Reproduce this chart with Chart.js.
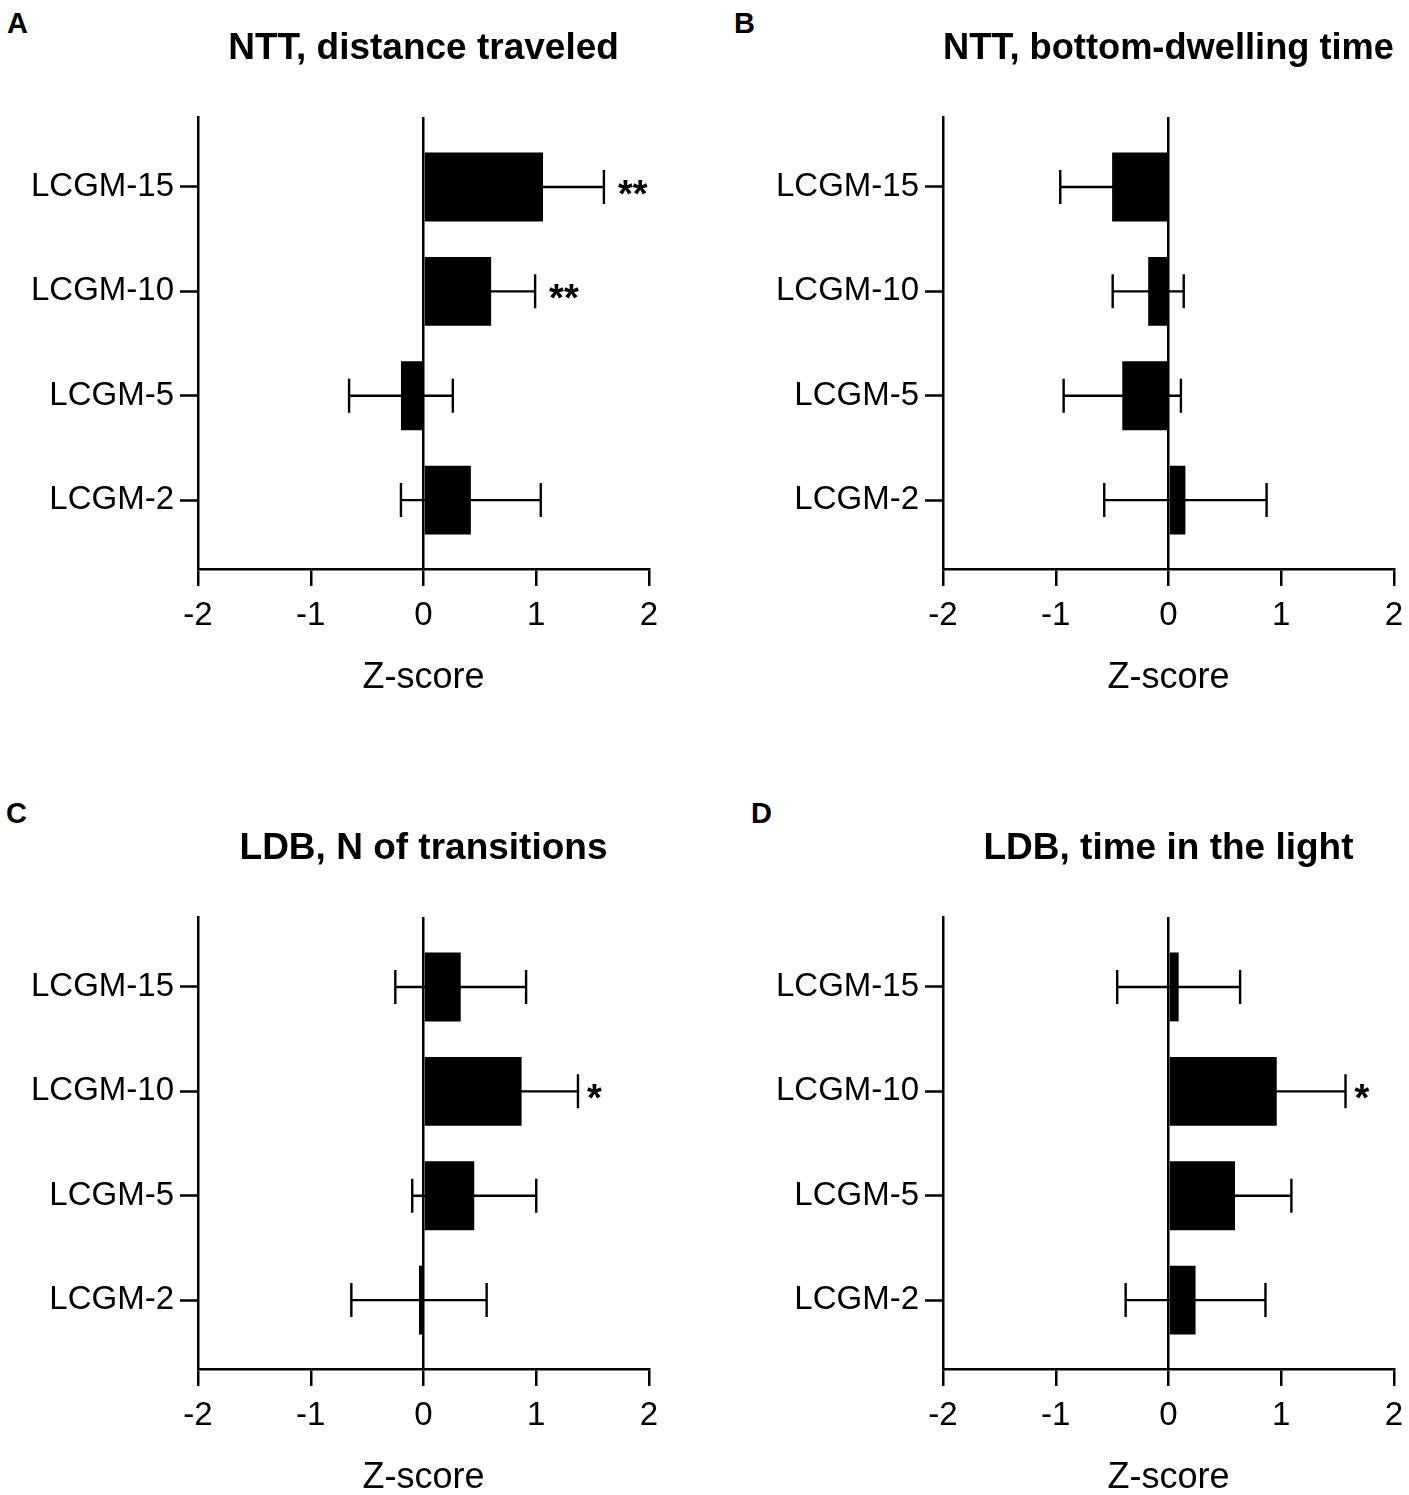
<!DOCTYPE html>
<html>
<head>
<meta charset="utf-8">
<script src="https://cdn.jsdelivr.net/npm/chart.js@4.4.0/dist/chart.umd.min.js"></script>
<style>
html, body { margin: 0; padding: 0; background: #fff; width: 1409px; height: 1495px; overflow: hidden; position: relative; }
.panel { position: absolute; width: 704px; height: 800px; }
.letter { position: absolute; font: bold 29px 'Liberation Sans', Arial, sans-serif; line-height: 29px; color: #000; }
</style>
</head>
<body>
<div class="letter" style="left:7px;top:9px">A</div>
<div class="letter" style="left:734px;top:9px">B</div>
<div class="letter" style="left:6px;top:799px">C</div>
<div class="letter" style="left:751px;top:799px">D</div>

<div class="panel" style="left:0;top:0"><canvas id="chartA"></canvas></div>
<div class="panel" style="left:745px;top:0"><canvas id="chartB"></canvas></div>
<div class="panel" style="left:0;top:800px"><canvas id="chartC"></canvas></div>
<div class="panel" style="left:745px;top:800px"><canvas id="chartD"></canvas></div>

<script>
// Dati
const categories = ['LCGM-15', 'LCGM-10', 'LCGM-5', 'LCGM-2'];
const xTicks = [-2, -1, 0, 1, 2];

const distanceMean = [1.06, 0.60, -0.20, 0.42];
const distanceSem = [0.54, 0.39, 0.46, 0.62];
const distanceSig = ['**', '**', '', ''];

const bottomMean = [-0.50, -0.18, -0.41, 0.15];
const bottomSem = [0.46, 0.315, 0.52, 0.72];
const bottomSig = ['', '', '', ''];

const transitionsMean = [0.33, 0.87, 0.45, -0.04];
const transitionsSem = [0.58, 0.50, 0.55, 0.60];
const transitionsSig = ['', '*', '', ''];

const lightMean = [0.09, 0.96, 0.59, 0.24];
const lightSem = [0.545, 0.61, 0.50, 0.62];
const lightSig = ['', '*', '', ''];

Chart.defaults.font.family = "'Liberation Sans', Arial, sans-serif";
Chart.defaults.color = '#000';

// posizione verticale di ogni gruppo (LCGM-15 in alto)
const pos = i => categories.length - i;

function makePanel(canvasId, titleText, means, sems, sig) {
    // barre di errore + asterischi
    const errorBars = {
        id: 'errorBars_' + canvasId,
        afterDatasetsDraw(chart) {
            const { ctx, scales: { x, y } } = chart;
            ctx.save();
            ctx.strokeStyle = '#000';
            ctx.lineWidth = 2.4;
            ctx.fillStyle = '#000';
            ctx.font = "bold 38px 'Liberation Sans', Arial, sans-serif";
            ctx.textAlign = 'left';
            ctx.textBaseline = 'alphabetic';
            means.forEach((m, i) => {
                const py = y.getPixelForValue(pos(i));
                const left = x.getPixelForValue(m - sems[i]);
                const right = x.getPixelForValue(m + sems[i]);
                ctx.beginPath();
                ctx.moveTo(left, py); ctx.lineTo(right, py);
                ctx.moveTo(left, py - 17); ctx.lineTo(left, py + 17);
                ctx.moveTo(right, py - 17); ctx.lineTo(right, py + 17);
                ctx.stroke();
                if (sig[i]) {
                    const gap = sig[i].length > 1 ? 14 : 9;
                    ctx.fillText(sig[i], right + gap, py + 20);
                }
            });
            ctx.restore();
        }
    };

    return new Chart(document.getElementById(canvasId), {
        type: 'bar',
        data: {
            datasets: [{
                data: means.map((m, i) => ({ x: m, y: pos(i) })),
                backgroundColor: '#000',
                borderWidth: 0,
                barPercentage: 0.66,
                categoryPercentage: 1
            }]
        },
        options: {
            indexAxis: 'y',
            responsive: true,
            maintainAspectRatio: false,
            animation: false,
            layout: { padding: { top: 27, right: 55, left: 0, bottom: 0 } },
            scales: {
                x: {
                    type: 'linear', min: -2, max: 2,
                    afterBuildTicks: s => { s.ticks = xTicks.map(v => ({ value: v })); },
                    afterFit: s => { s.height = 231; },
                    grid: {
                        color: c => (c.tick && c.tick.value === 0) ? '#000' : 'rgba(0,0,0,0)',
                        lineWidth: 2.5, tickColor: '#000', tickLength: 17, tickWidth: 2.5
                    },
                    border: { color: '#000', width: 2.5 },
                    ticks: { font: { size: 33 }, padding: 10, color: '#000', callback: v => String(v) },
                    title: { display: true, text: 'Z-score', font: { size: 36 }, color: '#000', padding: { top: 0, bottom: 100 } }
                },
                y: {
                    type: 'linear', min: 0.34, max: 4.67,
                    offset: false,
                    afterBuildTicks: s => { s.ticks = categories.map((c, i) => ({ value: pos(i) })); },
                    afterFit: s => { s.width = 198; },
                    grid: { offset: false, drawOnChartArea: false, color: '#000', tickColor: '#000', tickLength: 18, tickWidth: 2.5 },
                    border: { color: '#000', width: 2.5 },
                    ticks: { font: { size: 33 }, padding: 6, color: '#000', callback: v => categories[categories.length - v] }
                }
            },
            plugins: {
                legend: { display: false },
                tooltip: { enabled: false },
                title: {
                    display: true, text: titleText, fullSize: false, color: '#000',
                    font: { size: 37, weight: 'bold' }, padding: { top: 0, bottom: 45.6 }
                }
            }
        },
        plugins: [errorBars]
    });
}

makePanel('chartA', 'NTT, distance traveled', distanceMean, distanceSem, distanceSig);
makePanel('chartB', 'NTT, bottom-dwelling time', bottomMean, bottomSem, bottomSig);
makePanel('chartC', 'LDB, N of transitions', transitionsMean, transitionsSem, transitionsSig);
makePanel('chartD', 'LDB, time in the light', lightMean, lightSem, lightSig);
</script>
</body>
</html>
